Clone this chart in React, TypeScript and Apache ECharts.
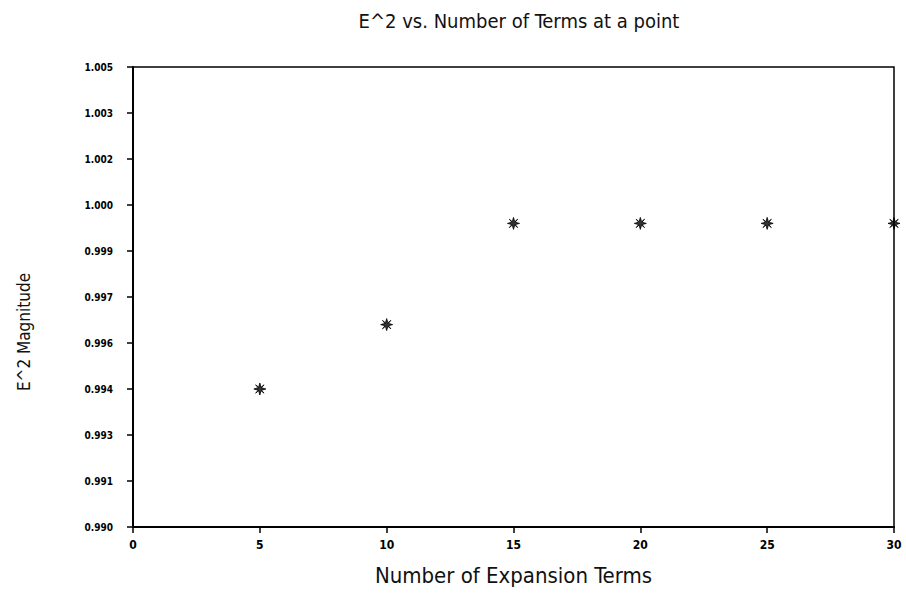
import React, { useEffect, useRef } from "react";
import * as echarts from "echarts";

const terms = [5, 10, 15, 20, 25, 30];
const e2Values = [0.9945, 0.9966, 0.9999, 0.9999, 0.9999, 0.9999];
const yTickLabels = ["0.990", "0.991", "0.993", "0.994", "0.996", "0.997", "0.999", "1.000", "1.002", "1.003", "1.005"];
const yMin = 0.99;
const yMax = 1.005;
const yStep = 0.0015;

const star =
  "path://M5,0 L6,3.6 L8.5,1.5 L6.4,4 L10,5 L6.4,6 L8.5,8.5 L6,6.4 L5,10 L4,6.4 L1.5,8.5 L3.6,6 L0,5 L3.6,4 L1.5,1.5 L4,3.6 Z";

export default function App() {
  const ref = useRef<HTMLDivElement>(null);
  useEffect(() => {
    const chart = echarts.init(ref.current!, null, { renderer: "svg" });
    const font = "'DejaVu Sans Condensed', 'Liberation Sans Narrow', sans-serif";
    chart.setOption({
      animation: false,
      backgroundColor: "#ffffff",
      title: {
        text: "E^2 vs. Number of Terms at a point",
        left: 514,
        top: 6,
        textAlign: "center",
        textStyle: { fontFamily: font, fontSize: 20, fontWeight: "normal", color: "#111" },
      },
      graphic: [
        {
          type: "text",
          x: 24,
          y: 332,
          rotation: Math.PI / 2,
          style: {
            text: "E^2 Magnitude",
            fontFamily: font,
            fontSize: 17,
            fill: "#111",
            align: "center",
            verticalAlign: "middle",
          },
        },
      ],
      grid: {
        left: 133,
        right: 12,
        top: 67,
        bottom: 81,
        show: true,
        borderColor: "#000",
        borderWidth: 1.5,
      },
      xAxis: {
        type: "value",
        min: 0,
        max: 30,
        interval: 5,
        name: "Number of Expansion Terms",
        nameLocation: "middle",
        nameGap: 37,
        nameTextStyle: { fontFamily: font, fontSize: 22, color: "#111" },
        axisLine: { lineStyle: { color: "#000", width: 2 } },
        axisTick: { show: true, length: 6, lineStyle: { color: "#000", width: 1.5 } },
        axisLabel: { margin: 12, fontFamily: font, fontSize: 12, fontWeight: "bold", color: "#000" },
        splitLine: { show: false },
      },
      yAxis: {
        type: "value",
        min: yMin,
        max: yMax,
        interval: yStep,
        axisLine: { lineStyle: { color: "#000", width: 2 } },
        axisTick: { show: true, length: 6, lineStyle: { color: "#000", width: 1.5 } },
        axisLabel: {
          margin: 20,
          fontFamily: font,
          fontSize: 10,
          fontWeight: "bold",
          color: "#000",
          formatter: (v: number) => yTickLabels[Math.round((v - yMin) / yStep)] ?? "",
        },
        splitLine: { show: false },
      },
      series: [
        {
          type: "scatter",
          data: terms.map((t, i) => [t, e2Values[i]]),
          symbol: star,
          symbolSize: 12,
          clip: false,
          itemStyle: { color: "#000", borderColor: "#000", borderWidth: 1 },
        },
      ],
    });
    return () => chart.dispose();
  }, []);
  return (
    <div
      ref={ref}
      style={{ position: "fixed", left: 0, top: 0, width: 906, height: 608 }}
    />
  );
}
